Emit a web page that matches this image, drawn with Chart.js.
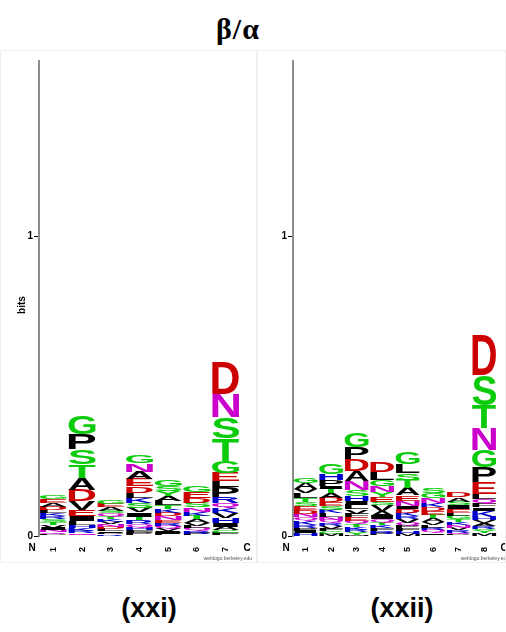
<!DOCTYPE html>
<html>
<head>
<meta charset="utf-8">
<script src="https://cdn.jsdelivr.net/npm/chart.js@4.4.1/dist/chart.umd.min.js"></script>
<style>
  body { margin: 0; background: #fff; width: 506px; height: 632px; position: relative; overflow: hidden; }
  .panel { position: absolute; top: 50px; }
  .lbl { position: absolute; font-family: "Liberation Sans", Arial, sans-serif; font-weight: bold; text-align: center; color: #000; }
  #title { position: absolute; left: 158px; width: 160px; top: 12px; font: bold 30px "Liberation Serif", "Times New Roman", serif; text-align: center; letter-spacing: 1px; }
</style>
</head>
<body>
<div id="title">β/α</div>
<canvas id="logoA" class="panel" width="257" height="513" style="left:0px"></canvas>
<canvas id="logoB" class="panel" width="249" height="513" style="left:257px"></canvas>
<div class="lbl" style="left:89px;width:120px;top:593px;font-size:27px">(xxi)</div>
<div class="lbl" style="left:342px;width:120px;top:593px;font-size:27px">(xxii)</div>

<script>
// ---- data: letters per position (top -> bottom) and their heights in bits ----
const yTicks = [0, 1];
const yMax = 1.585;

const xxiPositions = ['1', '2', '3', '4', '5', '6', '7'];
const xxiLetters = [
  'GEADLKRSTVINQP',
  'GPSTADVEILHKRNQ',
  'GEASQTKVNDLIPR',
  'GNAEDLKSVITRQHFP',
  'GSYALTKDNERQVIP',
  'GEDSNKTAVLQRP',
  'DNSTGELPRQKVHIACF'
];
const xxiBits = [
  [.013, .012, .012, .011, .011, .010, .010, .010, .009, .009, .008, .007, .007, .006],
  [.062, .050, .050, .045, .040, .036, .030, .020, .018, .012, .010, .009, .007, .006, .005],
  [.012, .012, .011, .010, .010, .009, .009, .008, .008, .008, .007, .006, .005, .005],
  [.028, .027, .025, .024, .022, .018, .017, .015, .015, .014, .013, .012, .011, .010, .010, .009],
  [.022, .018, .017, .016, .015, .013, .012, .011, .011, .010, .010, .009, .009, .009, .008],
  [.022, .020, .018, .015, .014, .013, .012, .011, .010, .009, .009, .009, .008],
  [.107, .077, .070, .075, .040, .028, .020, .034, .020, .017, .016, .015, .018, .012, .011, .010, .010]
];

const xxiiPositions = ['1', '2', '3', '4', '5', '6', '7', '8'];
const xxiiLetters = [
  'GAVLTSEDNQKRPIH',
  'GHPITADESKLNQRVFCM',
  'GPDANSHILVFEQTKRYM',
  'DLGNYESVAIQTKFRP',
  'GLSTAENIDKRVQPFHM',
  'SGNKDETAVLRQIP',
  'DASIELGTKNVRQP',
  'DSTNGPELQFIKHVARCYM'
];
const xxiiBits = [
  [.018, .020, .012, .018, .014, .012, .014, .012, .013, .012, .012, .010, .010, .009, .009],
  [.033, .020, .020, .010, .015, .015, .015, .012, .012, .012, .012, .010, .010, .010, .009, .008, .009, .008],
  [.046, .040, .040, .034, .030, .020, .017, .012, .015, .014, .013, .012, .010, .010, .009, .008, .008, .005],
  [.032, .025, .020, .020, .017, .015, .012, .020, .015, .012, .010, .010, .010, .009, .009, .008],
  [.040, .030, .022, .028, .024, .018, .018, .010, .012, .012, .010, .012, .010, .009, .009, .008, .008],
  [.018, .016, .016, .014, .013, .012, .012, .011, .010, .010, .009, .008, .006, .005],
  [.016, .014, .013, .012, .012, .011, .011, .010, .010, .009, .008, .008, .007, .004],
  [.134, .100, .077, .073, .057, .050, .040, .017, .015, .012, .010, .020, .012, .010, .010, .008, .006, .010, .009]
];

// weblogo amino acid colours
const aaColor = {};
'GSTYC'.split('').forEach(c => aaColor[c] = '#0ccb0c');
'NQ'.split('').forEach(c => aaColor[c] = '#cc00cc');
'KRH'.split('').forEach(c => aaColor[c] = '#0000cc');
'DE'.split('').forEach(c => aaColor[c] = '#cc0000');
'PAWFLIMV'.split('').forEach(c => aaColor[c] = '#000000');

// stack by rank: dataset 0 is the bottom letter of every column
function buildDatasets(letters, bits) {
  const depth = Math.max(...letters.map(s => s.length));
  const sets = [];
  for (let r = 0; r < depth; r++) {
    sets.push({
      data: bits.map(col => { const i = col.length - 1 - r; return i >= 0 ? col[i] : 0; }),
      glyphs: letters.map(s => { const i = s.length - 1 - r; return i >= 0 ? s[i] : ''; }),
      backgroundColor: 'rgba(0,0,0,0)',
      borderWidth: 0
    });
  }
  return sets;
}

// draws each letter stretched into its stacked bar rectangle
const logoLetters = {
  id: 'logoLetters',
  afterDatasetsDraw(chart) {
    const ctx = chart.ctx;
    chart.data.datasets.forEach((ds, di) => {
      const meta = chart.getDatasetMeta(di);
      meta.data.forEach((bar, i) => {
        const ch = ds.glyphs[i];
        if (!ch) return;
        const p = bar.getProps(['x', 'y', 'base', 'width'], true);
        const h = p.base - p.y;
        if (h < 0.4) return;
        ctx.save();
        ctx.font = 'bold 100px "Liberation Sans", Arial, sans-serif';
        ctx.textAlign = 'left';
        ctx.textBaseline = 'alphabetic';
        const m = ctx.measureText(ch);
        const gw = m.actualBoundingBoxLeft + m.actualBoundingBoxRight;
        const gh = m.actualBoundingBoxAscent + m.actualBoundingBoxDescent;
        ctx.translate(p.x - p.width / 2, p.y);
        ctx.scale(p.width / gw, h / gh);
        ctx.fillStyle = aaColor[ch] || '#000';
        ctx.fillText(ch, m.actualBoundingBoxLeft, m.actualBoundingBoxAscent);
        ctx.restore();
      });
    });
  }
};

// N / C ends, "bits" title, footer, faint frame
const logoFrame = {
  id: 'logoFrame',
  afterDraw(chart, args, opts) {
    const ctx = chart.ctx;
    const a = chart.chartArea;
    ctx.save();
    ctx.fillStyle = '#000';
    ctx.font = 'bold 10px "Liberation Sans", Arial, sans-serif';
    ctx.textAlign = 'center';
    ctx.textBaseline = 'middle';
    ctx.fillText('N', a.left - 7, a.bottom + 12);
    ctx.fillText('C', a.right + 7, a.bottom + 12);
    ctx.font = '5px "Liberation Sans", Arial, sans-serif';
    ctx.fillStyle = '#555';
    ctx.textAlign = 'right';
    ctx.fillText('weblogo.berkeley.edu', a.right + 12, a.bottom + 23);
    if (opts.bits) {
      ctx.translate(22, 255);
      ctx.rotate(-Math.PI / 2);
      ctx.font = 'bold 10px "Liberation Sans", Arial, sans-serif';
      ctx.fillStyle = '#000';
      ctx.textAlign = 'center';
      ctx.fillText('bits', 0, 0);
    }
    ctx.restore();
    ctx.save();
    ctx.strokeStyle = '#f0f0f0';
    ctx.lineWidth = 1;
    ctx.strokeRect(0.5, 0.5, chart.width - 1, chart.height - 1);
    ctx.restore();
  }
};

function makeLogo(id, positions, letters, bits, axisWidth, padRight, showBits) {
  return new Chart(document.getElementById(id), {
    type: 'bar',
    data: { labels: positions, datasets: buildDatasets(letters, bits) },
    plugins: [logoLetters, logoFrame],
    options: {
      responsive: false,
      animation: false,
      devicePixelRatio: 1,
      layout: { padding: { top: 11, right: padRight, bottom: 7, left: 0 } },
      datasets: { bar: { barPercentage: 0.94, categoryPercentage: 1.0 } },
      plugins: {
        legend: { display: false },
        tooltip: { enabled: false },
        logoFrame: { bits: showBits }
      },
      scales: {
        x: {
          stacked: true,
          grid: { display: false },
          border: { display: false },
          ticks: {
            minRotation: 90, maxRotation: 90, padding: 3,
            color: '#000',
            font: { family: '"Liberation Sans", Arial, sans-serif', size: 9, weight: 'bold' }
          },
          afterFit(scale) { scale.height = 20; }
        },
        y: {
          stacked: true,
          min: 0,
          max: yMax,
          afterBuildTicks(scale) { scale.ticks = yTicks.map(v => ({ value: v })); },
          grid: { display: true, drawOnChartArea: false, drawTicks: true, tickLength: 5, color: '#000', lineWidth: 1 },
          border: { display: true, color: '#8c8c8c', width: 2 },
          ticks: {
            padding: 1,
            color: '#000',
            font: { family: '"Liberation Sans", Arial, sans-serif', size: 10, weight: 'bold' },
            callback: v => String(v)
          },
          afterFit(scale) { scale.width = axisWidth; }
        }
      }
    }
  });
}

makeLogo('logoA', xxiPositions, xxiLetters, xxiBits, 39, 17, true);
makeLogo('logoB', xxiiPositions, xxiiLetters, xxiiBits, 36, 9, false);
</script>
</body>
</html>
